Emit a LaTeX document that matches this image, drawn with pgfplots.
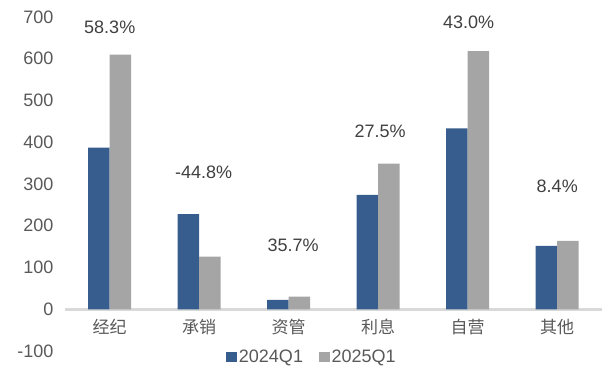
\documentclass[border=0pt]{standalone}
\usepackage{fontspec}
\setmainfont{Liberation Sans}
\newfontfamily\cjk{Noto Sans CJK SC}
\usepackage{pgfplots}
\pgfplotsset{compat=1.18}
\definecolor{cblue}{HTML}{375D8E}
\definecolor{cgray}{HTML}{A5A5A5}
\definecolor{zline}{HTML}{D9D9D9}
\definecolor{tgray}{HTML}{595959}
\definecolor{dgray}{HTML}{404040}
\begin{document}
\begin{tikzpicture}
\begin{axis}[
  scale only axis, clip=false,
  width=537pt, height=334pt,
  xmin=-0.5, xmax=5.5, ymin=-100, ymax=700,
  axis x line*=middle, axis y line*=left,
  x axis line style={draw=zline, line width=3pt},
  y axis line style={draw=none},
  major tick length=0pt,
  ytick={-100,0,100,200,300,400,500,600,700},
  xtick={0,1,2,3,4,5},
  xticklabels={经纪,承销,资管,利息,自营,其他},
  xticklabel style={font=\cjk\fontsize{17}{20}\selectfont, text=tgray, yshift=-6pt},
  yticklabel style={font=\fontsize{18}{20}\selectfont, text=tgray, xshift=-8pt},
  /pgf/number format/assume math mode=true,
  ybar=0pt, bar width=21.5pt,
  legend style={at={(0.46,-0.018)}, anchor=center, draw=none, fill=none,
    legend columns=2, font=\fontsize{18}{20}\selectfont, text=tgray,
    /tikz/every even column/.append style={column sep=14pt},
    inner sep=0pt},
  legend image code/.code={\fill[#1] (0pt,-5pt) rectangle (10.5pt,5.5pt);},
]
\addplot[fill=cblue, draw=none] coordinates {(0,387) (1,228) (2,22.5) (3,274) (4,433) (5,152)};
\addplot[fill=cgray, draw=none] coordinates {(0,610) (1,126) (2,30.5) (3,349) (4,618) (5,164)};
\legend{2024Q1,2025Q1}
\begin{scope}[every node/.style={font=\fontsize{18}{20}\selectfont, text=dgray}]
\node at (axis cs:0,676) {58.3\%};
\node at (axis cs:1.05,329) {-44.8\%};
\node at (axis cs:2.05,153) {35.7\%};
\node at (axis cs:3.02,427) {27.5\%};
\node at (axis cs:4.01,688) {43.0\%};
\node at (axis cs:5,295) {8.4\%};
\end{scope}
\coordinate (bl) at (rel axis cs:0,0);
\end{axis}
\path (bl) ++(-65pt,-22pt) rectangle ++(608pt,373pt);
\end{tikzpicture}
\end{document}
